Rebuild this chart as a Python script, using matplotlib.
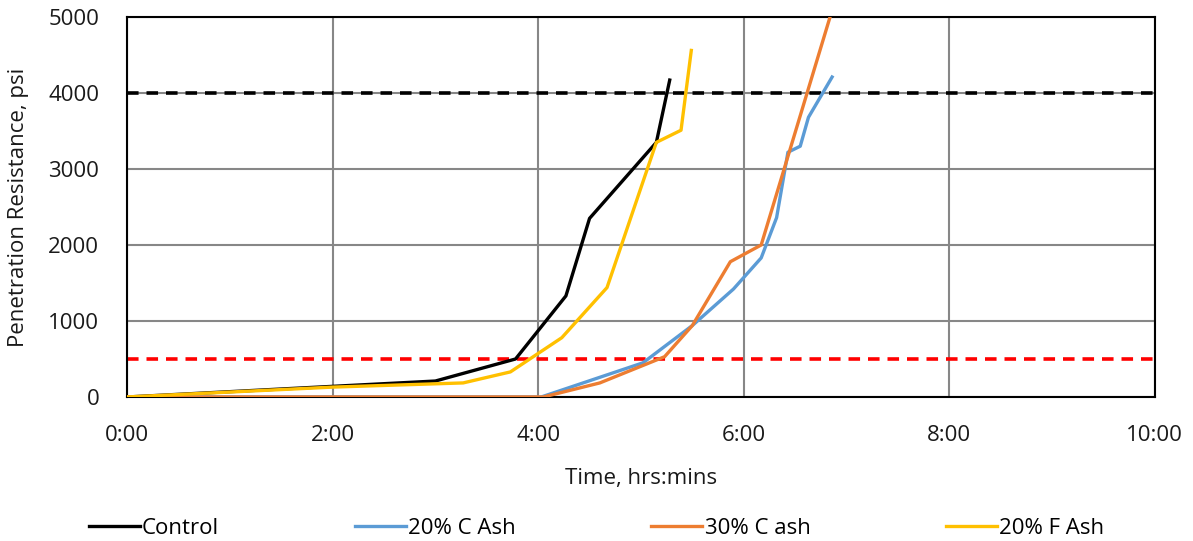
import matplotlib.pyplot as plt
from matplotlib.ticker import FuncFormatter, MultipleLocator

# time in hours, penetration resistance in psi
control_t = [0, 3.0, 3.78, 4.27, 4.5, 5.15, 5.28]
control_v = [0, 210, 500, 1330, 2350, 3350, 4170]

c20_t = [0, 4.03, 5.02, 5.5, 5.9, 6.17, 6.32, 6.43, 6.55, 6.63, 6.86]
c20_v = [0, 0, 450, 940, 1420, 1830, 2360, 3220, 3300, 3680, 4210]

c30_t = [0, 4.05, 4.6, 5.23, 5.5, 5.87, 6.17, 6.84]
c30_v = [0, 0, 185, 530, 940, 1780, 2000, 5000]

f20_t = [0, 2.0, 3.27, 3.73, 4.23, 4.67, 5.15, 5.39, 5.49]
f20_v = [0, 130, 185, 330, 780, 1440, 3350, 3510, 4560]

final_set = 4000
initial_set = 500

plt.rcParams['font.family'] = ['Open Sans', 'DejaVu Sans']

fig = plt.figure(figsize=(11.93, 5.41), dpi=100)
ax = fig.add_axes([0.1065, 0.2662, 0.8615, 0.7024])

ax.axhline(final_set, color='black', lw=2.6, ls=(0, (3.2, 2.2)), zorder=2)
ax.axhline(initial_set, color='#FF0000', lw=2.6, ls=(0, (3.2, 2.2)), zorder=2)

ax.plot(control_t, control_v, color='black', lw=2.4, label='Control', zorder=3)
ax.plot(c20_t, c20_v, color='#5B9BD5', lw=2.4, label='20% C Ash', zorder=3)
ax.plot(c30_t, c30_v, color='#ED7D31', lw=2.4, label='30% C ash', zorder=3)
ax.plot(f20_t, f20_v, color='#FFC000', lw=2.4, label='20% F Ash', zorder=3)

ax.set_xlim(0, 10)
ax.set_ylim(0, 5000)
ax.xaxis.set_major_locator(MultipleLocator(2))
ax.yaxis.set_major_locator(MultipleLocator(1000))
ax.xaxis.set_major_formatter(FuncFormatter(lambda x, p: '%d:%02d' % (int(x), round((x % 1) * 60))))
ax.grid(True, color='#878787', lw=1.5, zorder=1)
ax.set_axisbelow(True)
for s in ax.spines.values():
    s.set_color('black')
    s.set_linewidth(1.5)
ax.tick_params(length=0, labelsize=16, pad=20, colors='#1a1a1a')

ax.set_xlabel('Time, hrs:mins', fontsize=16, labelpad=16, color='#1a1a1a')
ax.set_ylabel('Penetration Resistance, psi', fontsize=16, labelpad=14, color='#1a1a1a')

fig.legend(loc='center', bbox_to_anchor=(0.5, 0.024), ncol=4, frameon=False,
           fontsize=16, handlelength=2.3, handletextpad=0.1, columnspacing=6.1)

fig.savefig('out.png', dpi=100)
